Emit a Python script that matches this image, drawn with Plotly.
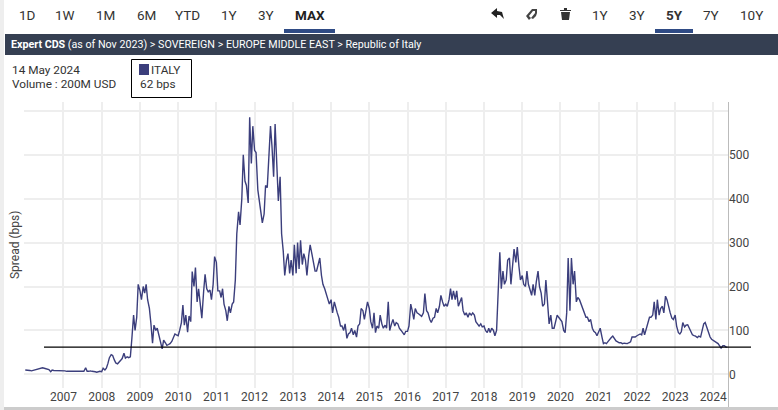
import pandas as pd
import plotly.graph_objects as go

# CDS spread, two points per month (bps)
v2006 = [10, 10, 9, 9, 8, 9, 11, 12, 13, 14, 15, 15, 14, 13, 13, 11, 6, 10, 9, 9, 9, 8, 8, 8]
v2007 = [8, 8, 7, 7, 7, 7, 7, 6, 6, 6, 6, 6, 7, 7, 15, 7, 7, 8, 7, 7, 6, 5, 7, 7]
v2008 = [6, 14, 10, 14, 25, 38, 45, 43, 33, 26, 24, 27, 32, 36, 48, 37, 40, 38, 40, 80, 135, 100, 130, 205]
v2009 = [190, 170, 200, 185, 205, 170, 150, 117, 71, 112, 100, 105, 85, 75, 58, 78, 72, 66, 68, 70, 75, 85, 92, 90]
v2010 = [88, 100, 118, 158, 112, 135, 96, 133, 120, 234, 200, 243, 165, 195, 165, 128, 188, 228, 195, 188, 192, 170, 205, 268]
v2011 = [255, 190, 190, 175, 195, 160, 145, 122, 155, 140, 160, 165, 215, 320, 370, 340, 400, 500, 440, 430, 390, 585, 480, 565]
v2012 = [510, 505, 420, 395, 380, 345, 365, 430, 425, 490, 565, 520, 450, 570, 460, 395, 450, 320, 280, 225, 260, 275, 230, 260]
v2013 = [225, 295, 230, 300, 240, 305, 250, 275, 260, 225, 270, 295, 275, 260, 235, 235, 255, 265, 225, 205, 195, 185, 175, 160]
v2014 = [170, 140, 165, 150, 140, 130, 110, 110, 100, 115, 82, 92, 95, 105, 90, 100, 85, 110, 115, 150, 145, 125, 145, 165]
v2015 = [150, 120, 105, 140, 95, 110, 105, 135, 115, 105, 112, 105, 165, 100, 115, 125, 110, 118, 115, 105, 100, 95, 90, 98]
v2016 = [98, 110, 160, 145, 125, 150, 140, 138, 135, 132, 140, 184, 145, 140, 125, 118, 128, 130, 150, 140, 155, 180, 165, 155]
v2017 = [160, 155, 170, 195, 170, 190, 170, 190, 155, 165, 175, 145, 135, 140, 130, 140, 135, 140, 135, 120, 115, 110, 115, 108]
v2018 = [110, 100, 95, 105, 95, 105, 100, 88, 100, 200, 278, 195, 235, 205, 215, 260, 265, 205, 250, 285, 255, 290, 245, 215]
v2019 = [225, 205, 200, 235, 205, 195, 180, 205, 180, 210, 235, 200, 185, 155, 160, 215, 170, 115, 135, 105, 105, 120, 135, 130]
v2020 = [125, 120, 100, 95, 140, 265, 145, 265, 205, 235, 165, 175, 170, 160, 150, 140, 130, 130, 120, 125, 105, 98, 95, 88]
v2021 = [100, 105, 85, 70, 72, 70, 75, 80, 84, 87, 80, 76, 74, 72, 72, 70, 71, 70, 70, 72, 74, 85, 85, 85]
v2022 = [88, 90, 92, 90, 105, 90, 105, 115, 130, 130, 135, 165, 125, 170, 135, 150, 155, 140, 178, 170, 150, 140, 128, 125]
v2023 = [135, 110, 95, 92, 97, 118, 108, 112, 113, 105, 95, 90, 88, 87, 84, 87, 85, 100, 115, 118, 105, 92, 85, 80]
v2024 = [77, 74, 72, 70, 65, 60, 65, 65, 62, 62]

spread = (v2006 + v2007 + v2008 + v2009 + v2010 + v2011 + v2012 + v2013 + v2014
          + v2015 + v2016 + v2017 + v2018 + v2019 + v2020 + v2021 + v2022 + v2023 + v2024)
dates = list(pd.date_range("2006-01-01", "2024-05-01", freq="SMS")) + [pd.Timestamp("2024-05-14")]

year_ticks = [f"{y}-01-01" for y in range(2007, 2025)]
year_labels = [str(y) for y in range(2007, 2025)]
spread_ticks = [0, 100, 200, 300, 400, 500, 600]
spread_labels = ["0", "100", "200", "300", "400", "500", ""]
last_value = 62

left_buttons = ["1D", "1W", "1M", "6M", "YTD", "1Y", "3Y", "MAX"]
left_button_x = [27, 65, 105, 146, 187, 229, 266, 310]
right_buttons = ["1Y", "3Y", "5Y", "7Y", "10Y"]
right_button_x = [600, 637, 674, 711, 751]

LINE = "#3b3e7c"
TEXT = "#333333"
FONT = "Roboto"

# plot area in pixels
L, R, T, B = 24, 728, 102, 388


def px(x):
    return (x - L) / (R - L)


def py(y):
    return (B - y) / (B - T)


def rect(x0, y0, x1, y1, **kw):
    return dict(type="rect", xref="paper", yref="paper", x0=px(x0), y0=py(y0), x1=px(x1), y1=py(y1), **kw)


def poly(points, color):
    d = "M" + "L".join(f"{px(x):.4f},{py(y):.4f}" for x, y in points) + "Z"
    return dict(type="path", xref="paper", yref="paper", path=d, fillcolor=color, line=dict(width=0))


def label(x, y, text, size=13, color=TEXT, anchor="center", **kw):
    return dict(xref="paper", yref="paper", x=px(x), y=py(y), text=text, showarrow=False,
                xanchor=anchor, yanchor="middle", font=dict(family=FONT, size=size, color=color), **kw)


fig = go.Figure()
fig.add_trace(go.Scatter(x=dates, y=spread, mode="lines", name="ITALY", line=dict(color=LINE, width=1.4)))

shapes = [
    rect(0, 0, 4, 410, fillcolor="#eeeeee", line=dict(width=0)),
    rect(4, 407, 778, 410, fillcolor="#cccccc", line=dict(width=0)),
    rect(5, 34, 778, 55, fillcolor="#353f52", line=dict(width=0)),
    rect(284, 29, 335, 33, fillcolor="#2f4b85", line=dict(width=0)),
    rect(655, 29, 693, 33, fillcolor="#2f4b85", line=dict(width=0)),
    rect(131.5, 59.5, 191.5, 97.5, line=dict(color="black", width=1)),
    rect(139, 64, 149, 75, fillcolor=LINE, line=dict(width=0)),
    dict(type="line", xref="paper", yref="paper", x0=px(728.5), x1=px(728.5), y0=py(102), y1=py(407),
         line=dict(color="#bbbbbb", width=1)),
    # level of the last value
    dict(type="line", xref="paper", yref="y", x0=px(44), x1=px(751), y0=last_value, y1=last_value,
         line=dict(color="black", width=1.2)),
    # undo arrow
    poly([(491, 13), (497, 8), (497, 11), (502, 12), (504, 19), (500, 15), (497, 15), (497, 18)], "#222222"),
    # magnet
    poly([(526, 16), (532, 9), (537, 9), (537, 13), (535, 13), (535, 11), (533, 11), (529, 16), (531, 18), (529, 20)], "#444444"),
    poly([(535, 13), (537, 13), (536, 16), (533, 19), (531, 18)], "#444444"),
    # trash can
    poly([(560, 10), (564, 10), (564, 8), (567, 8), (567, 10), (571, 10), (571, 11), (560, 11)], "#333333"),
    poly([(561, 12), (570, 12), (569, 20), (562, 20)], "#333333"),
]

notes = [label(x, 15, t, size=13.5) for x, t in zip(left_button_x[:-1], left_buttons[:-1])]
notes.append(label(left_button_x[-1], 15, "<b>MAX</b>", size=13.5, color="#222222"))
for x, t in zip(right_button_x, right_buttons):
    notes.append(label(x, 15, "<b>5Y</b>" if t == "5Y" else t, size=13.5))
notes += [
    label(9, 44.5, "<b>Expert CDS</b> (as of Nov 2023) &gt; SOVEREIGN &gt; EUROPE MIDDLE EAST &gt; Republic of Italy",
          size=10.7, color="white", anchor="left"),
    label(10, 70.5, "14 May 2024", size=11.8, anchor="left"),
    label(10, 84.5, "Volume : 200M USD", size=11.8, anchor="left"),
    label(149, 70.5, "ITALY", size=11.8, anchor="left"),
    label(137.5, 84.5, "62 bps", size=11.8, anchor="left"),
    label(15, 245, "Spread (bps)", size=12, color="#444444", textangle=-90),
]

fig.update_layout(
    width=778, height=410,
    margin=dict(l=L, r=778 - R, t=T, b=410 - B),
    paper_bgcolor="white", plot_bgcolor="white",
    showlegend=False,
    font=dict(family=FONT, size=12, color="#444444"),
    xaxis=dict(
        type="date", range=["2005-12-20", "2024-05-20"], automargin=False,
        tickmode="array", tickvals=year_ticks, ticktext=year_labels,
        showgrid=True, gridcolor="#eeeeee", gridwidth=1.5, zeroline=False, showline=False, ticks="",
    ),
    yaxis=dict(
        side="right", range=[-31, 620], automargin=False,
        tickmode="array", tickvals=spread_ticks, ticktext=spread_labels,
        showgrid=True, gridcolor="#eeeeee", gridwidth=1.5, zeroline=False, showline=False, ticks="",
    ),
    shapes=shapes,
    annotations=notes,
)

# page margin off, so the figure sits at the window's corner
fig.write_html("out.html", config=dict(displayModeBar=False),
               post_script="document.body.style.margin='0';")
